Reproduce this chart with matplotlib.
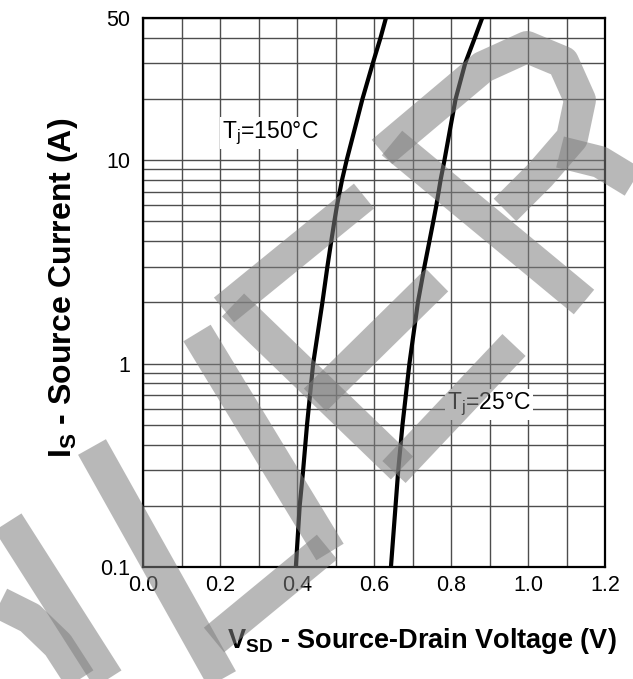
import matplotlib

matplotlib.use("Agg")
import matplotlib.pyplot as plt
from matplotlib.lines import Line2D
import numpy as np

plt.rcParams["font.family"] = ["Liberation Sans", "DejaVu Sans"]
plt.rcParams["mathtext.fontset"] = "custom"
plt.rcParams["mathtext.rm"] = "Liberation Sans"
plt.rcParams["mathtext.bf"] = "Liberation Sans:bold"
plt.rcParams["mathtext.it"] = "Liberation Sans:italic"

# source current (A) and forward voltage (V)
current = [0.1, 0.2, 0.3, 0.5, 1, 2, 3, 4, 5, 6, 8, 10, 14, 20, 30, 40, 50]
vsd_150c = [0.397, 0.407, 0.416, 0.426, 0.442, 0.466, 0.479, 0.489, 0.497, 0.504, 0.517, 0.529, 0.549, 0.570, 0.597, 0.617, 0.631]
vsd_25c = [0.644, 0.656, 0.663, 0.674, 0.692, 0.714, 0.731, 0.744, 0.754, 0.762, 0.773, 0.783, 0.797, 0.812, 0.837, 0.862, 0.881]

x_ticks = [0.0, 0.2, 0.4, 0.6, 0.8, 1.0, 1.2]
x_tick_labels = ["0.0", "0.2", "0.4", "0.6", "0.8", "1.0", "1.2"]
y_ticks = [0.1, 1, 10, 50]
y_tick_labels = ["0.1", "1", "10", "50"]

W, H = 633, 679
fig = plt.figure(figsize=(W / 100, H / 100), dpi=100)
ax = fig.add_axes([143 / W, 1 - 567 / H, (605 - 143) / W, (567 - 18) / H])

ax.semilogy(vsd_150c, current, color="black", lw=3.0, zorder=3)
ax.semilogy(vsd_25c, current, color="black", lw=3.0, zorder=3)

ax.set_xlim(0, 1.2)
ax.set_ylim(0.1, 50)
ax.set_xticks(x_ticks)
ax.set_xticklabels(x_tick_labels, fontsize=15.5)
ax.set_xticks(np.arange(0.1, 1.2, 0.2), minor=True)
ax.set_yticks(y_ticks)
ax.set_yticklabels(y_tick_labels, fontsize=15.5)
ax.set_yticks([v * d for d in (0.1, 1, 10) for v in range(2, 10) if v * d < 50], minor=True)
ax.yaxis.set_minor_formatter(plt.NullFormatter())
ax.tick_params(which="both", length=0)
ax.tick_params(axis="y", pad=9)
ax.tick_params(axis="x", pad=6)
ax.grid(True, which="both", color="#4d4d4d", lw=1.0)
for s in ax.spines.values():
    s.set_linewidth(1.6)
    s.set_zorder(4)

box = dict(facecolor="white", edgecolor="none", pad=1.5)
ax.text(0.205, 13.6, "T$_\\mathregular{j}$=150°C", fontsize=16.5, va="center", ha="left", bbox=box, zorder=3)
ax.text(0.79, 0.63, "T$_\\mathregular{j}$=25°C", fontsize=16.5, va="center", ha="left", bbox=box, zorder=3)

fig.text(422 / W, 1 - 641 / H, "V$_\\mathbf{SD}$ - Source-Drain Voltage (V)", fontsize=19.5,
         fontweight="bold", ha="center", va="center")
fig.text(63 / W, 1 - 288 / H, "I$_\\mathbf{S}$ - Source Current (A)", fontsize=23,
         fontweight="bold", ha="center", va="center", rotation=90)

# grey watermark strokes over the chart, in image pixels
strokes = [
    [(8, 522), (108, 679)],
    [(0, 603), (30, 618), (58, 645), (80, 679)],
    [(92, 447), (222, 679)],
    [(214, 640), (327, 547)],
    [(197, 333), (330, 552)],
    [(233, 305), (402, 468)],
    [(224, 310), (364, 196)],
    [(315, 400), (437, 280)],
    [(394, 472), (514, 345)],
    [(392, 143), (584, 302)],
    [(382, 152), (483, 67), (527, 47), (563, 62), (580, 100), (572, 138), (540, 175), (505, 210)],
    [(560, 152), (600, 162), (633, 182)],
]
for pts in strokes:
    xs = [p[0] / W for p in pts]
    ys = [1 - p[1] / H for p in pts]
    fig.add_artist(Line2D(xs, ys, transform=fig.transFigure, color="#7f7f7f", alpha=0.55,
                          lw=23, solid_capstyle="butt", solid_joinstyle="round", zorder=10))

fig.savefig("out.png", dpi=100)
